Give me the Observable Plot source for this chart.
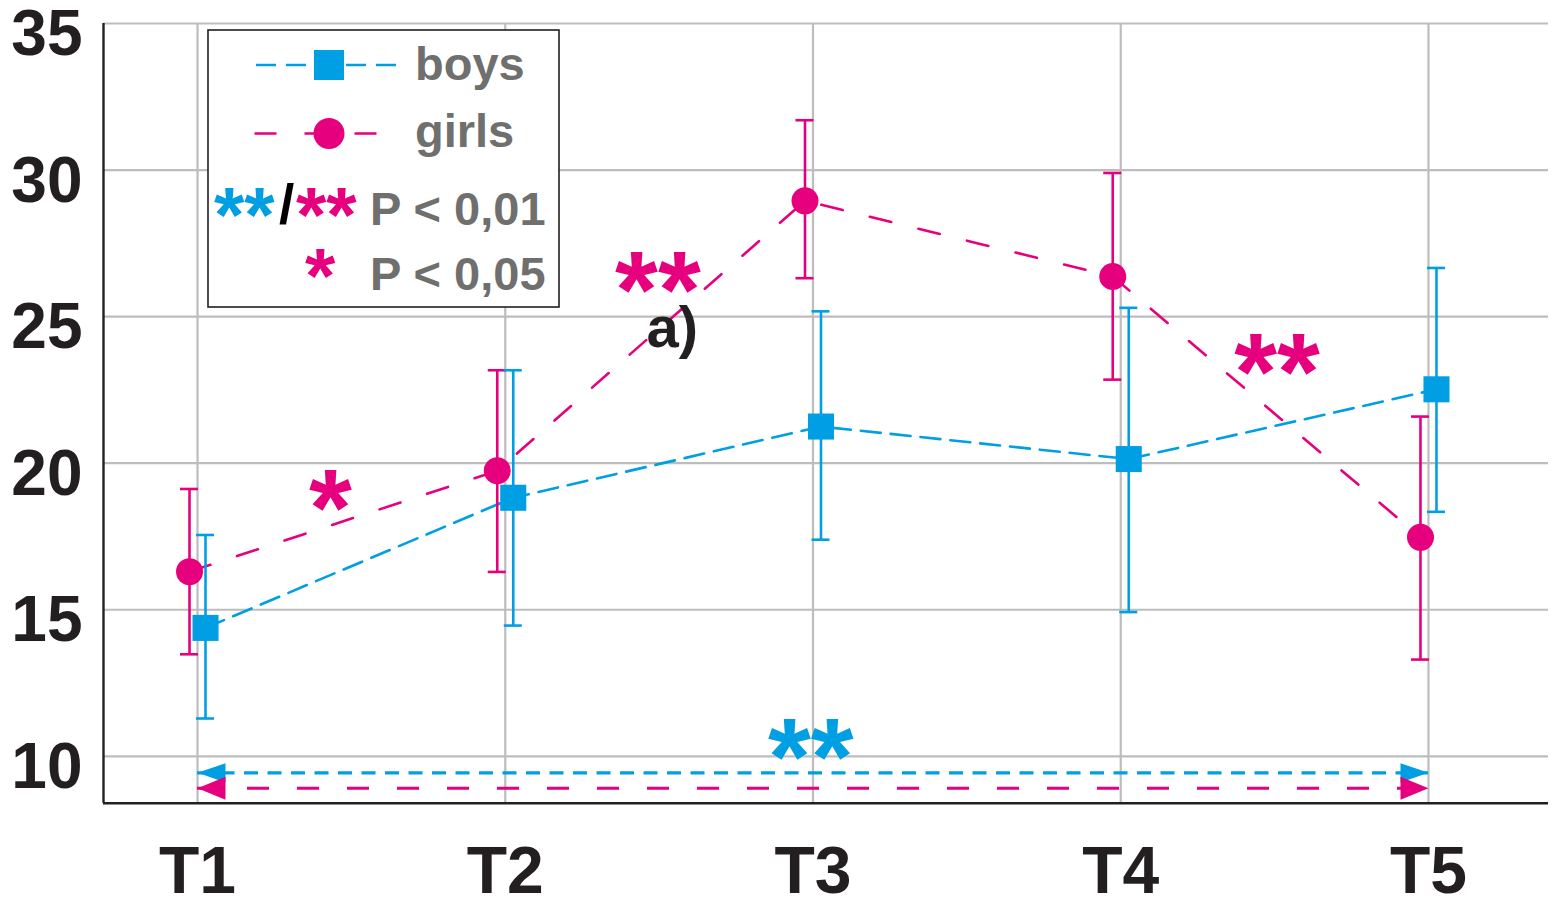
<!DOCTYPE html>
<html><head><meta charset="utf-8">
<script src="https://cdn.jsdelivr.net/npm/d3@7"></script>
<script src="https://cdn.jsdelivr.net/npm/@observablehq/plot@0.6"></script>
<style>html,body{margin:0;padding:0;background:#fff;}#chart{width:1557px;height:907px;}</style>
</head><body><div id="chart"></div>
<script>
// ---- data ----
const times = ["T1", "T2", "T3", "T4", "T5"];
const boysMean  = [14.38, 18.82, 21.25, 20.14, 22.52];
const boysLow   = [11.29, 14.46, 17.39, 14.92, 18.34];
const boysHigh  = [17.55, 23.17, 25.18, 25.30, 26.66];
const girlsMean = [16.30, 19.74, 28.95, 26.37, 17.47];
const girlsLow  = [13.48, 16.29, 26.31, 22.85, 13.30];
const girlsHigh = [19.12, 23.17, 31.70, 29.90, 21.59];
const yTicks = [10, 15, 20, 25, 30, 35];
const legendLabels = ["boys", "girls"];
const pLabels = ["P < 0,01", "P < 0,05"];
// significance annotations (position in time-index units / value units)
const starLabels = ["*", "**", "**", "**"];
const starGroup  = ["girls", "girls", "girls", "boys"];
const starT      = [1.432, 2.496, 4.508, 2.993];
const starV      = [19.05, 26.50, 23.71, 10.57];
const arrowGroup = ["boys", "girls"];
const arrowFrom  = [1, 1];
const arrowTo    = [5, 5];
const arrowV     = [9.435, 8.91];
const noteText = "a)";
const noteT = 2.543, noteV = 24.59;

// ---- styles ----
const blue = "#009fe3", pink = "#e6007e", gray = "#6f6f6e", ink = "#231f20", gridColor = "#bdbdbd";
const colorOf = g => g === "boys" ? blue : pink;
const xDomain = [0.6945, 5.39], yDomain = [8.4, 35];

const rows = (m, lo, hi) => times.map((t, i) => ({t: i + 1, mean: m[i], low: lo[i], high: hi[i]}));
const boys = rows(boysMean, boysLow, boysHigh);
const girls = rows(girlsMean, girlsLow, girlsHigh);
const stars = starLabels.map((s, i) => ({s, g: starGroup[i], t: starT[i], v: starV[i]}));
const arrows = arrowGroup.map((g, i) => ({g, from: arrowFrom[i], to: arrowTo[i], v: arrowV[i]}));
const heads = arrows.flatMap(a => [{g: a.g, t: a.from, v: a.v, dir: -1}, {g: a.g, t: a.to, v: a.v, dir: 1}]);

const head = (dir, len, half) => ({draw(ctx) { ctx.moveTo(0, 0); ctx.lineTo(-dir * len, -half); ctx.lineTo(-dir * len, half); ctx.closePath(); }});
const headSym = {boys: {"-1": head(-1, 28, 9.7), "1": head(1, 28, 9.7)}, girls: {"-1": head(-1, 28, 11.5), "1": head(1, 28, 11.5)}};

const errMarks = (data, color, dx) => [
  Plot.ruleX(data, {x: "t", y1: "low", y2: "high", stroke: color, strokeWidth: 2.6, dx}),
  Plot.ruleY(data, {x1: "t", x2: "t", y: "low", stroke: color, strokeWidth: 2.6, insetLeft: -9, insetRight: -9, dx}),
  Plot.ruleY(data, {x1: "t", x2: "t", y: "high", stroke: color, strokeWidth: 2.6, insetLeft: -9, insetRight: -9, dx})
];

const plot = Plot.plot({
  width: 1557, height: 907,
  marginLeft: 103, marginRight: 9, marginTop: 23, marginBottom: 104.3,
  x: {type: "linear", domain: xDomain},
  y: {domain: yDomain},
  style: {fontFamily: "'Liberation Sans', Arial, sans-serif", background: "#fff", overflow: "visible"},
  marks: [
    Plot.gridX([1, 2, 3, 4, 5], {stroke: gridColor, strokeOpacity: 1, strokeWidth: 2.2}),
    Plot.gridY(yTicks, {stroke: gridColor, strokeOpacity: 1, strokeWidth: 2.2}),
    Plot.ruleX([xDomain[0]], {stroke: ink, strokeWidth: 2.4}),
    Plot.ruleY([yDomain[0]], {stroke: ink, strokeWidth: 2.4}),
    Plot.axisY(yTicks, {tickSize: 0, tickPadding: 21, fontSize: 64, fontWeight: "bold", fill: ink, dy: 11, label: null}),
    Plot.axisX([1, 2, 3, 4, 5], {tickSize: 0, tickPadding: 43, fontSize: 66, fontWeight: "bold", fill: ink, tickFormat: d => times[d - 1], label: null}),
    // significance arrows
    Plot.ruleY(arrows.filter(a => a.g === "boys"), {x1: "from", x2: "to", y: "v", stroke: blue, strokeWidth: 3.2, strokeDasharray: "14,9.5"}),
    Plot.ruleY(arrows.filter(a => a.g === "girls"), {x1: "from", x2: "to", y: "v", stroke: pink, strokeWidth: 3, strokeDasharray: "22,28"}),
    ...heads.map(h => Plot.dot([h], {x: "t", y: "v", symbol: headSym[h.g][String(h.dir)], fill: colorOf(h.g), stroke: "none", r: 10})),
    // series lines
    Plot.line(boys, {x: "t", y: "mean", stroke: blue, strokeWidth: 2.6, strokeDasharray: "20,10", dx: 8}),
    Plot.line(girls, {x: "t", y: "mean", stroke: pink, strokeWidth: 2.6, strokeDasharray: "22,28", dx: -8}),
    ...errMarks(girls, pink, -8),
    ...errMarks(boys, blue, 8),
    Plot.dot(boys, {x: "t", y: "mean", symbol: "square", r: 14.7, fill: blue, stroke: "none", dx: 8}),
    Plot.dot(girls, {x: "t", y: "mean", symbol: "circle", r: 13.5, fill: pink, stroke: "none", dx: -8}),
    // annotations
    Plot.text(stars, {x: "t", y: "v", text: "s", fill: d => colorOf(d.g), fontSize: 110, fontWeight: "bold", dy: 19}),
    Plot.text([noteText], {x: () => noteT, y: () => noteV, text: d => d, fill: ink, fontSize: 58, fontWeight: "bold"})
  ]
});

// ---- legend (inside plot, top-left) ----
const svg = d3.select(plot);
const lg = svg.append("g").attr("font-family", "'Liberation Sans', Arial, sans-serif")
  .attr("font-weight", "bold").attr("text-anchor", "start");
lg.append("rect").attr("x", 208).attr("y", 30).attr("width", 351).attr("height", 277)
  .attr("fill", "#fff").attr("stroke", ink).attr("stroke-width", 1.6);
lg.append("line").attr("x1", 256).attr("x2", 396).attr("y1", 65).attr("y2", 65)
  .attr("stroke", blue).attr("stroke-width", 2.6).attr("stroke-dasharray", "20,10");
lg.append("rect").attr("x", 314).attr("y", 50).attr("width", 30).attr("height", 30).attr("fill", blue);
lg.append("line").attr("x1", 254.5).attr("x2", 377).attr("y1", 133.5).attr("y2", 133.5)
  .attr("stroke", pink).attr("stroke-width", 2.6).attr("stroke-dasharray", "22,28");
lg.append("circle").attr("cx", 329).attr("cy", 133.5).attr("r", 15.5).attr("fill", pink);
lg.append("text").attr("x", 415).attr("y", 80).attr("font-size", 47).attr("fill", gray).text(legendLabels[0]);
lg.append("text").attr("x", 415).attr("y", 147).attr("font-size", 47).attr("fill", gray).text(legendLabels[1]);
lg.append("text").attr("x", 214).attr("y", 242).attr("font-size", 78).attr("fill", blue).text("**");
lg.append("text").attr("x", 279).attr("y", 223).attr("font-size", 55).attr("fill", "#000").text("/");
lg.append("text").attr("x", 296).attr("y", 242).attr("font-size", 78).attr("fill", pink).text("**");
lg.append("text").attr("x", 305).attr("y", 303).attr("font-size", 78).attr("fill", pink).text("*");
lg.append("text").attr("x", 370).attr("y", 225).attr("font-size", 47).attr("fill", gray).text(pLabels[0]);
lg.append("text").attr("x", 370).attr("y", 290).attr("font-size", 47).attr("fill", gray).text(pLabels[1]);

document.getElementById("chart").appendChild(plot);
</script>
</body></html>
